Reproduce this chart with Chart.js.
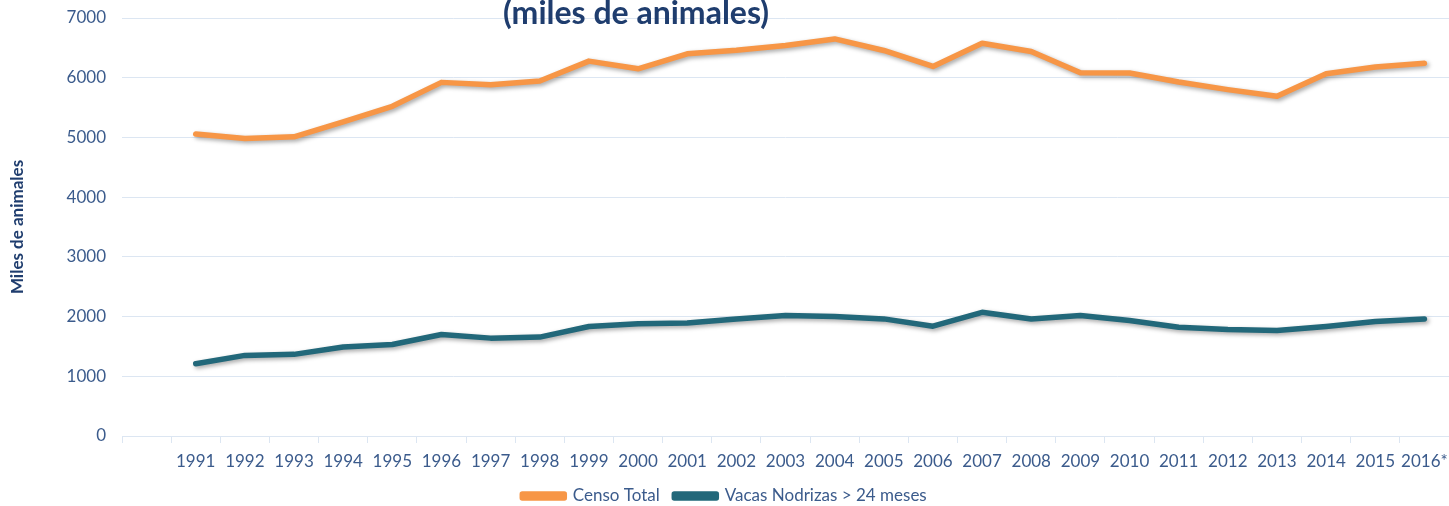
<!DOCTYPE html>
<html>
<head>
<meta charset="utf-8">
<script src="https://cdn.jsdelivr.net/npm/chart.js@4.4.1/dist/chart.umd.min.js"></script>
<style>
  html, body { margin: 0; padding: 0; background: #fff; overflow: hidden; }
  #wrap { width: 1449px; height: 506px; }
</style>
</head>
<body>
<div id="wrap"><canvas id="censoChart"></canvas></div>
<script>
// first category is left empty, as in the original sheet
var years = ['', '1991', '1992', '1993', '1994', '1995', '1996', '1997', '1998', '1999', '2000',
  '2001', '2002', '2003', '2004', '2005', '2006', '2007', '2008', '2009', '2010',
  '2011', '2012', '2013', '2014', '2015', '2016*'];
var censoTotal = [null, 5056, 4983, 5011, 5261, 5522, 5922, 5883, 5944, 6278, 6150,
  6400, 6460, 6539, 6650, 6456, 6189, 6578, 6439, 6083, 6078,
  5928, 5800, 5689, 6067, 6178, 6244];
var vacasNodrizas = [null, 1211, 1350, 1367, 1489, 1533, 1700, 1639, 1656, 1833, 1878,
  1894, 1961, 2017, 2000, 1961, 1839, 2072, 1961, 2017, 1933,
  1822, 1783, 1767, 1833, 1917, 1961];
var yMin = 0, yMax = 7000, yStep = 1000;

var textColor = '#3B5B8C';
var gridColor = '#DCE6F2';

// shadow under the lines
var lineShadow = {
  id: 'lineShadow',
  beforeDatasetDraw: function (chart) {
    var c = chart.ctx;
    c.save();
    c.shadowColor = 'rgba(0,0,0,0.35)';
    c.shadowBlur = 4;
    c.shadowOffsetX = 2;
    c.shadowOffsetY = 2;
  },
  afterDatasetDraw: function (chart) {
    chart.ctx.restore();
  }
};

// title is cut off at the top in the original
var topTitle = {
  id: 'topTitle',
  afterDraw: function (chart) {
    var c = chart.ctx;
    c.save();
    c.font = 'bold 32px Lato';
    c.fillStyle = '#1F3D6E';
    c.textAlign = 'center';
    c.textBaseline = 'alphabetic';
    c.fillText('(miles de animales)', 636, 24);
    c.restore();
  }
};

var ctx = document.getElementById('censoChart').getContext('2d');
var myChart = new Chart(ctx, {
  type: 'line',
  data: {
    labels: years,
    datasets: [{
      label: 'Censo Total',
      data: censoTotal,
      borderColor: '#F79646',
      backgroundColor: '#F79646',
      borderWidth: 5.5
    }, {
      label: 'Vacas Nodrizas > 24 meses',
      data: vacasNodrizas,
      borderColor: '#22687A',
      backgroundColor: '#22687A',
      borderWidth: 5.5
    }]
  },
  options: {
    responsive: true,
    maintainAspectRatio: false,
    animation: false,
    layout: { padding: { top: 18, left: 0, right: 0, bottom: -8.5 } },
    elements: {
      point: { radius: 0 },
      line: { tension: 0, borderCapStyle: 'round', borderJoinStyle: 'round' }
    },
    scales: {
      x: {
        offset: true,
        grid: { offset: true, drawOnChartArea: false, color: gridColor, tickLength: 7 },
        border: { color: gridColor },
        ticks: { color: textColor, font: { family: 'Lato', size: 17 }, maxRotation: 0, autoSkip: false, padding: 8 },
        afterFit: function (s) {
          s.height = 37;
          s.paddingLeft = 0;
          s.paddingRight = 0;
        }
      },
      y: {
        min: yMin,
        max: yMax,
        grid: { color: gridColor, drawTicks: false },
        border: { display: false },
        ticks: {
          stepSize: yStep, color: textColor, font: { family: 'Lato', size: 17 }, padding: 16,
          callback: function (v) { return String(v); }
        },
        title: {
          display: true,
          text: 'Miles de animales',
          color: '#1F3D6E',
          font: { family: 'Lato', size: 17, weight: 'bold' },
          padding: { top: 7, bottom: 0 }
        },
        afterFit: function (s) {
          s.width = 122;
          s.paddingTop = 0;
          s.paddingBottom = 0;
        }
      }
    },
    plugins: {
      legend: {
        position: 'bottom',
        labels: {
          color: textColor,
          font: { family: 'Lato', size: 17 },
          boxWidth: 42,
          boxHeight: 4,
          padding: 14.5
        }
      },
      tooltip: { enabled: false }
    }
  },
  plugins: [lineShadow, topTitle]
});
</script>
</body>
</html>
